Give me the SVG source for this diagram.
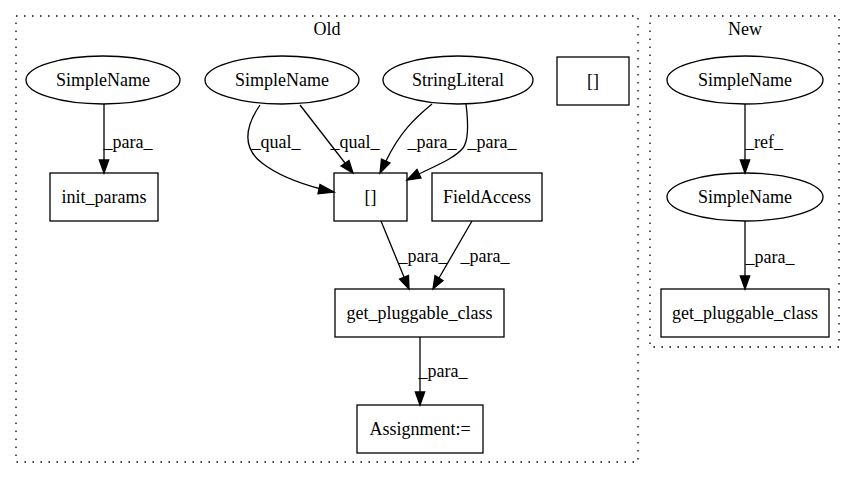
<svg xmlns="http://www.w3.org/2000/svg" width="856" height="480" viewBox="0 0 856 480">
<style>
text{font-family:"Liberation Serif","Times New Roman",serif;font-size:18px;fill:#000;text-anchor:middle}
.n{fill:none;stroke:#000;stroke-width:1.3}
.c{fill:none;stroke:#000;stroke-width:1.3;stroke-dasharray:1.5,6.5}
.e{fill:none;stroke:#000;stroke-width:1.3}
.a{fill:#000;stroke:#000;stroke-width:1.3}
</style>
<rect width="856" height="480" fill="#fff"/>
<g id="cluster_old">
<rect class="c" x="16" y="16" width="622" height="446"/>
<text x="327" y="35">Old</text>
</g>
<g id="cluster_new">
<rect class="c" x="650" y="16" width="189" height="331"/>
<text x="745" y="35">New</text>
</g>
<g id="old_simplename1"><ellipse class="n" cx="103" cy="80" rx="77" ry="24"/><text x="103" y="86">SimpleName</text></g>
<g id="old_init_params"><rect class="n" x="50" y="173" width="108" height="48"/><text x="104" y="203">init_params</text></g>
<g id="old_simplename2"><ellipse class="n" cx="282" cy="80" rx="77" ry="24"/><text x="282" y="86">SimpleName</text></g>
<g id="old_stringliteral"><ellipse class="n" cx="458" cy="80" rx="75" ry="24"/><text x="458" y="86">StringLiteral</text></g>
<g id="old_index"><rect class="n" x="334" y="173" width="73" height="48"/><text x="370.5" y="203">[]</text></g>
<g id="old_index2"><rect class="n" x="557" y="57" width="72" height="48"/><text x="593" y="87">[]</text></g>
<g id="old_fieldaccess"><rect class="n" x="432" y="173" width="110" height="48"/><text x="487" y="203">FieldAccess</text></g>
<g id="old_gpc"><rect class="n" x="335" y="289" width="169" height="48"/><text x="419.5" y="319">get_pluggable_class</text></g>
<g id="old_assign"><rect class="n" x="357" y="405" width="126" height="48"/><text x="420" y="435">Assignment:=</text></g>
<g id="new_simplename1"><ellipse class="n" cx="745" cy="80" rx="78" ry="24"/><text x="745" y="86">SimpleName</text></g>
<g id="new_simplename2"><ellipse class="n" cx="745" cy="197" rx="78" ry="24"/><text x="745" y="203">SimpleName</text></g>
<g id="new_gpc"><rect class="n" x="661" y="289" width="168" height="48"/><text x="745" y="319">get_pluggable_class</text></g>
<g id="connectors">
<path class="e" d="M104,104 L104,160"/><polygon class="a" points="99.3,160 108.7,160 104,173"/>
<text x="128" y="148">_para_</text>
<path class="e" d="M260,105 C247,124 240,146 262,163 C280,177 302,184 321,189"/><polygon class="a" points="320,184.5 318,193.7 334,192"/>
<text x="276" y="148">_qual_</text>
<path class="e" d="M300,105 L345,163"/><polygon class="a" points="341,166 349,160.5 353,173"/>
<text x="355" y="148">_qual_</text>
<path class="e" d="M432,104 C415,118 400,132 386,161"/><polygon class="a" points="381.5,159 390,163 380,173"/>
<text x="432" y="148">_para_</text>
<path class="e" d="M466,104 C468,120 469,140 463,148 C455,158 435,166 419,174"/><polygon class="a" points="417,169.5 421,178 407,180"/>
<text x="492" y="148">_para_</text>
<path class="e" d="M381,221 L404,277"/><polygon class="a" points="399.5,279 408.5,275.5 409,289"/>
<text x="423" y="262">_para_</text>
<path class="e" d="M472,221 L439,278"/><polygon class="a" points="435,275.5 443,280.5 433,289"/>
<text x="485" y="262">_para_</text>
<path class="e" d="M420,337 L420,392"/><polygon class="a" points="415.3,392 424.7,392 420,405"/>
<text x="443" y="377">_para_</text>
<path class="e" d="M745,104 L745,160"/><polygon class="a" points="740.3,160 749.7,160 745,173"/>
<text x="764" y="148">_ref_</text>
<path class="e" d="M745,221 L745,276"/><polygon class="a" points="740.3,276 749.7,276 745,289"/>
<text x="770" y="263">_para_</text>
</g>
</svg>
